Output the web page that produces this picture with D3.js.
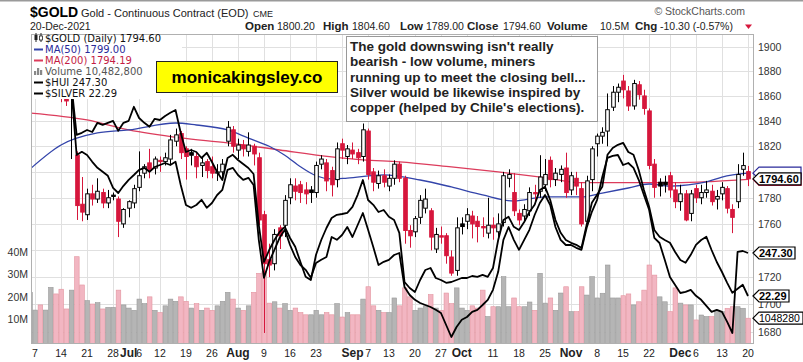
<!DOCTYPE html>
<html>
<head>
<meta charset="utf-8">
<script src="https://cdn.jsdelivr.net/npm/d3@7"></script>
<style>
  body { margin: 0; background: #fff; }
  svg { display: block; font-family: Arial, "Liberation Sans", sans-serif; }
</style>
</head>
<body>
<svg id="chart" width="803" height="362"></svg>
<script>
// trading calendar: weekdays Jun 4 - Dec 20 2021, minus exchange holidays
var firstDay = "2021-06-04", lastDay = "2021-12-20";
var holidays = ["2021-07-05", "2021-09-06", "2021-11-25"];

// daily $GOLD candles [open, high, low, close]
var ohlc = [
  [1872,1895,1868,1892],[1892,1903,1888,1899],[1899,1903,1890,1894],[1894,1900,1886,1896],[1896,1904,1884,1897],
  [1897,1902,1874,1878],[1878,1880,1855,1866],[1862,1866,1852,1856],[1858,1862,1810,1859],[1813,1816,1763,1774],
  [1775,1796,1762,1769],[1767,1787,1763,1783],[1783,1790,1774,1779],[1779,1795,1776,1785],[1784,1787,1772,1776],
  [1776,1786,1772,1780],[1782,1784,1778,1781],[1779,1781,1750,1762],[1760,1772,1757,1771],
  // Jul
  [1772,1778,1765,1777],[1776,1790,1772,1787],[1788,1816,1785,1797],[1799,1806,1795,1804],[1807,1818,1795,1802],
  [1803,1812,1798,1810],[1809,1812,1800,1808],[1808,1815,1805,1811],[1810,1829,1806,1825],[1824,1834,1820,1829],
  [1830,1832,1810,1815],[1818,1820,1794,1812],[1815,1818,1805,1813],[1812,1815,1795,1804],[1805,1812,1796,1807],
  [1808,1810,1795,1801],[1804,1812,1795,1799],[1799,1806,1793,1800],[1800,1810,1795,1806],[1824,1840,1820,1835],
  [1833,1836,1815,1820],
  // Aug
  [1817,1826,1810,1821],[1821,1825,1812,1818],[1816,1831,1812,1821],[1820,1822,1805,1814],[1811,1815,1759,1763],
  [1767,1770,1679,1730],[1733,1745,1720,1729],[1730,1756,1725,1752],[1757,1759,1741,1751],[1759,1782,1750,1778],
  [1780,1795,1775,1790],[1789,1795,1778,1785],[1790,1793,1776,1784],[1786,1792,1775,1783],[1786,1789,1776,1784],
  [1784,1808,1780,1805],[1806,1813,1802,1810],[1807,1810,1785,1793],[1801,1804,1781,1790],[1794,1823,1788,1818],
  [1822,1826,1810,1817],[1812,1821,1806,1818],
  // Sep
  [1817,1823,1810,1814],[1815,1818,1806,1811],[1812,1838,1808,1833],[1832,1834,1794,1798],[1800,1803,1785,1792],
  [1791,1801,1787,1797],[1797,1802,1788,1792],[1789,1798,1785,1795],[1795,1809,1790,1806],[1806,1808,1792,1795],
  [1795,1797,1745,1755],[1755,1759,1742,1751],[1754,1766,1750,1764],[1765,1782,1760,1778],[1772,1787,1768,1779],
  [1770,1772,1740,1750],[1741,1757,1738,1752],[1751,1758,1745,1750],[1751,1753,1730,1736],[1735,1740,1721,1723],
  [1725,1765,1721,1757],
  // Oct
  [1760,1765,1752,1758],[1762,1772,1756,1767],[1766,1770,1749,1760],[1762,1766,1746,1758],[1758,1765,1750,1757],
  [1753,1780,1749,1759],[1759,1765,1748,1757],[1754,1768,1750,1760],[1761,1800,1758,1797],[1795,1802,1788,1798],
  [1784,1799,1766,1770],[1768,1771,1759,1763],[1766,1775,1762,1771],[1770,1788,1766,1784],[1784,1790,1775,1783],
  [1785,1813,1780,1796],[1790,1810,1785,1798],[1809,1812,1788,1794],[1794,1803,1789,1799],[1798,1805,1792,1802],
  [1803,1815,1780,1784],
  // Nov
  [1786,1800,1782,1797],[1795,1800,1782,1789],[1787,1792,1758,1760],[1762,1797,1760,1793],[1794,1820,1785,1818],
  [1822,1830,1812,1828],[1828,1835,1822,1831],[1832,1862,1820,1849],[1851,1868,1848,1863],[1863,1870,1855,1867],
  [1872,1877,1858,1865],[1864,1868,1848,1852],[1852,1873,1849,1870],[1869,1872,1857,1861],[1860,1865,1845,1850],
  [1848,1850,1802,1805],[1806,1810,1780,1788],[1792,1795,1781,1789],[1792,1797,1784,1790],[1797,1800,1780,1786],
  [1786,1792,1772,1777],
  // Dec
  [1777,1790,1770,1783],[1783,1786,1762,1763],[1768,1786,1762,1783],[1787,1790,1776,1780],[1780,1790,1775,1784],
  [1784,1793,1780,1786],[1785,1790,1774,1777],[1779,1786,1771,1781],[1783,1792,1778,1788],[1787,1789,1768,1772],
  [1771,1775,1753,1765],[1777,1806,1772,1798],[1802,1815,1797,1804.9],[1800.2,1804.6,1789,1794.6]
];

// daily volume, millions
var volume = [
  22.0,14.1,16.4,14.1,24.2,21.3,23.4,14.6,23.0,37.9,25.3,18.3,16.8,17.4,14.6,15.3,15.3,23.0,16.4,
  15.0,14.0,19.0,17.0,20.0,14.0,13.0,16.0,19.0,18.0,20.0,18.0,15.0,17.0,14.0,15.0,14.0,16.0,18.0,22.0,19.0,
  15.0,14.0,16.0,22.0,30.5,31.2,17.2,17.8,15.0,17.0,14.0,15.0,13.0,12.0,12.0,14.0,12.0,13.0,12.0,17.0,11.0,13.0,
  12.0,12.0,19.0,24.5,16.0,14.0,13.0,13.0,19.5,16.0,24.0,20.0,14.0,15.0,16.0,21.0,15.0,14.0,21.7,17.0,24.0,
  15.0,14.0,16.0,15.0,23.0,11.2,15.6,15.6,29.0,15.6,19.5,15.6,15.6,17.7,14.0,30.5,17.2,19.5,14.0,21.7,24.5,
  13.4,13.4,24.5,20.8,29.0,19.5,21.6,34.2,19.5,19.5,20.5,21.3,16.4,17.8,23.0,34.2,29.7,20.0,17.8,13.4,24.0,
  17.2,16.4,16.4,9.7,11.9,11.2,11.2,13.4,13.4,14.9,15.6,15.6,14.9,10.48
];

// overlay: $HUI close
var hui = [
  295.6,295.1,294.3,294.1,294.6,292.6,290.6,289.6,288.1,271.8,272.6,271.8,270.1,268.6,267.6,266.6,263.6,262.3,264.1,
  265.6,266.8,268.1,268.6,267.6,268.8,269.3,269.8,269.3,270.1,264.3,259.3,258.6,259.3,260.6,258.6,259.8,261.8,263.1,268.1,268.6,
  266.8,265.6,266.1,264.3,250.6,241.1,245.1,248.1,251.1,253.1,249.3,246.3,244.3,243.1,241.1,244.8,245.6,246.3,251.3,250.6,251.8,253.8,
  251.3,254.3,257.3,253.1,248.8,244.3,245.1,245.6,246.8,247.3,238.8,236.8,235.6,234.8,234.3,233.8,233.1,232.3,229.3,226.3,228.8,
  230.6,231.3,232.6,233.1,234.3,235.6,238.1,242.6,250.6,253.8,250.6,248.1,250.6,253.1,256.8,259.8,261.8,259.3,253.8,250.6,249.3,
  249.3,248.6,248.1,253.6,257.6,260.6,266.3,271.1,271.6,271.8,269.3,269.8,268.6,265.6,261.8,258.1,251.1,249.8,245.6,241.3,239.3,
  237.3,237.6,238.1,236.6,235.6,234.1,232.6,233.1,232.6,230.1,227.3,247.6,247.8,247.3
];

// overlay: $SILVER close
var silver = [
  28.44,28.39,28.32,28.24,28.32,28.14,27.94,27.74,27.57,26.32,26.37,26.44,26.39,26.62,26.57,26.62,26.67,26.42,26.62,
  26.67,27.02,26.74,26.62,26.52,26.72,26.69,26.79,26.87,26.94,26.37,25.89,25.94,25.89,25.74,25.87,25.64,25.39,25.19,25.74,25.82,
  25.69,25.59,25.49,25.34,24.07,23.14,23.44,23.69,23.89,24.02,23.74,23.52,23.14,22.77,22.69,23.32,23.69,23.99,24.24,24.32,24.34,24.37,
  24.52,24.82,25.19,24.69,24.57,24.39,24.44,24.27,24.19,23.87,22.64,22.49,22.39,22.69,22.94,22.99,22.74,22.69,22.62,22.64,22.69,
  22.74,22.74,22.79,22.77,22.82,22.77,22.99,23.69,24.19,24.27,24.02,23.94,24.14,24.39,24.57,24.94,25.02,24.69,24.19,23.87,23.69,
  23.62,23.57,23.49,24.07,24.62,24.82,25.02,25.82,25.99,26.07,26.12,25.89,25.82,25.44,24.94,24.52,23.94,23.77,23.69,23.62,23.39,
  23.19,23.12,23.32,23.57,23.69,23.77,23.44,23.14,22.89,22.62,22.37,22.47,22.57,22.29
];

// moving averages [date, value]
var ma50 = [
  ["2021-06-04",1802],["2021-06-14",1821],["2021-06-23",1830.5],["2021-07-01",1832.9],["2021-07-15",1838.4],
  ["2021-07-21",1836.8],["2021-07-29",1832.9],["2021-08-04",1826.5],["2021-08-10",1820],["2021-08-13",1813],
  ["2021-08-18",1804],["2021-08-23",1797],["2021-08-26",1794.5],["2021-08-31",1795.2],["2021-09-10",1797.6],
  ["2021-09-21",1793.7],["2021-09-29",1788.3],["2021-10-07",1782.2],["2021-10-15",1777.5],["2021-10-25",1780.6],
  ["2021-11-03",1780.6],["2021-11-09",1783.6],["2021-11-16",1787.5],["2021-11-22",1790.6],["2021-11-29",1789.0],
  ["2021-12-08",1792.2],["2021-12-13",1796.0],["2021-12-20",1799.0]
];
var ma200 = [
  ["2021-06-04",1846.4],["2021-06-21",1840.8],["2021-07-01",1832.9],["2021-07-16",1826.6],["2021-07-29",1822.7],
  ["2021-08-12",1817.1],["2021-08-26",1811.7],["2021-09-03",1809.3],["2021-09-15",1807.8],["2021-09-29",1803.9],
  ["2021-10-12",1800.0],["2021-10-25",1795.5],["2021-11-03",1791.6],["2021-11-12",1791.6],["2021-11-30",1791.6],
  ["2021-12-09",1792.5],["2021-12-20",1794.19]
];

var xTicks = [
  ["2021-06-07","7"],["2021-06-14","14"],["2021-06-21","21"],["2021-06-28","28"],["2021-07-01","Jul"],
  ["2021-07-06","6"],["2021-07-12","12"],["2021-07-19","19"],["2021-07-26","26"],["2021-08-02","Aug"],
  ["2021-08-09","9"],["2021-08-16","16"],["2021-08-23","23"],["2021-09-01","Sep"],["2021-09-07","7"],
  ["2021-09-13","13"],["2021-09-20","20"],["2021-09-27","27"],["2021-10-01","Oct"],["2021-10-11","11"],
  ["2021-10-18","18"],["2021-10-25","25"],["2021-11-01","Nov"],["2021-11-08","8"],["2021-11-15","15"],
  ["2021-11-22","22"],["2021-12-01","Dec"],["2021-12-06","6"],["2021-12-13","13"],["2021-12-20","20"]
];
var priceTicks = [1680,1700,1720,1740,1760,1780,1800,1820,1840,1860,1880,1900];
var volTicks = [10e6, 20e6, 30e6, 40e6];

var legendRows = [
  {label: "$GOLD (Daily) 1794.60", color: "#111", icon: "candle"},
  {label: "MA(50) 1799.00", color: "#2a2a9a", icon: "line", stroke: "#3344aa"},
  {label: "MA(200) 1794.19", color: "#c41c44", icon: "line", stroke: "#dc3c5c"},
  {label: "Volume 10,482,800", color: "#555", icon: "bars"},
  {label: "$HUI 247.30", color: "#111", icon: "line", stroke: "#000"},
  {label: "$SILVER 22.29", color: "#111", icon: "line", stroke: "#000"}
];
var annotation = [
  "The gold downswing isn't really",
  "bearish - low volume, miners",
  "running up to meet the closing bell...",
  "Silver would be likewise inspired by",
  "copper (helped by Chile's elections)."
];

var RED = "#d6173c", PINK = "#f2b6c2", PINK_EDGE = "#e3949f", GRAY = "#b5b5b5", GRAY_EDGE = "#999";

var parse = d3.timeParse("%Y-%m-%d"), fmt = d3.timeFormat("%Y-%m-%d");
var dates = d3.timeDay.range(parse(firstDay), d3.timeDay.offset(parse(lastDay), 1))
  .filter(function(d) { var w = d.getDay(); return w > 0 && w < 6 && holidays.indexOf(fmt(d)) < 0; });
var idx = {};
dates.forEach(function(d, i) { idx[fmt(d)] = i; });

var rows = dates.map(function(d, i) {
  var q = ohlc[i];
  return { i: i, o: q[0], h: q[1], l: q[2], c: q[3], v: volume[i] * 1e6,
           up: i === 0 ? true : q[3] >= ohlc[i - 1][3] };
});

var plot = { left: 31, right: 754, top: 34, bottom: 343 };
var x = d3.scaleLinear().domain([1, 138]).range([35, 748]);
var y = d3.scaleLog().domain([1680, 1900]).range([331.6, 46.7]);
var yVol = d3.scaleLinear().domain([0, 40e6]).range([341.7, 252]);
var yHui = d3.scaleLinear().domain([247.3, 310.55]).range([253, 0]);
var ySil = d3.scaleLinear().domain([22.29, 29.69]).range([296, 0]);

var svg = d3.select("#chart");
svg.append("rect").attr("x", 0).attr("y", 0).attr("width", 803).attr("height", 1.5).attr("fill", "#9a9a9a");

svg.append("defs").append("clipPath").attr("id", "plotclip")
  .append("rect").attr("x", plot.left).attr("y", plot.top)
  .attr("width", plot.right - plot.left).attr("height", plot.bottom - plot.top);

// ---- header
var head = svg.append("g");
head.append("text").attr("x", 30).attr("y", 17).style("font-size", "14px").style("font-weight", "bold").text("$GOLD");
head.append("text").attr("x", 81).attr("y", 17).style("font-size", "11px").attr("fill", "#222").text("Gold - Continuous Contract (EOD)");
head.append("text").attr("x", 253).attr("y", 17).style("font-size", "9px").attr("fill", "#222").text("CME");
head.append("text").attr("x", 30).attr("y", 30).style("font-size", "10.5px").attr("fill", "#222").text("20-Dec-2021");
head.append("text").attr("x", 745).attr("y", 15).attr("text-anchor", "end").style("font-size", "10.5px")
  .attr("fill", "#555").text("\u00a9 StockCharts.com");

var quote = [
  [245, "Open", true], [277, "1800.20", false], [323, "High", true], [352, "1804.60", false],
  [400, "Low", true], [426, "1789.00", false], [467, "Close", true], [503, "1794.60", false],
  [547, "Volume", true], [600, "10.5M", false], [635, "Chg", true], [660, "-10.30 (-0.57%)", false]
];
head.selectAll("text.q").data(quote).join("text").attr("class", "q")
  .attr("x", function(d) { return d[0]; }).attr("y", 30)
  .style("font-size", function(d) { return d[2] ? "11.5px" : "10.5px"; })
  .style("font-weight", function(d) { return d[2] ? "bold" : "normal"; })
  .attr("fill", "#222")
  .text(function(d) { return d[1]; });
head.append("path").attr("d", "M745,24.5 L752,24.5 L748.5,29 Z").attr("fill", RED);

// ---- grid
var grid = svg.append("g");
grid.selectAll("line.h").data(priceTicks).join("line").attr("class", "h")
  .attr("x1", plot.left).attr("x2", plot.right)
  .attr("y1", function(d) { return Math.round(y(d)) + 0.5; })
  .attr("y2", function(d) { return Math.round(y(d)) + 0.5; })
  .attr("stroke", "#e0e0e0");
var weekStarts = rows.filter(function(r) {
  return r.i > 0 && dates[r.i].getDay() < dates[r.i - 1].getDay();
});
grid.selectAll("line.v").data(weekStarts).join("line").attr("class", "v")
  .attr("x1", function(r) { return Math.round(x(r.i)) + 0.5; })
  .attr("x2", function(r) { return Math.round(x(r.i)) + 0.5; })
  .attr("y1", plot.top).attr("y2", plot.bottom)
  .attr("stroke", "#e0e0e0");

var body = svg.append("g").attr("clip-path", "url(#plotclip)");

// ---- volume
var step = x(2) - x(1);
body.append("g").selectAll("rect").data(rows).join("rect")
  .attr("x", function(r) { return x(r.i) - step / 2 + 0.5; })
  .attr("width", step - 0.6)
  .attr("y", function(r) { return yVol(r.v); })
  .attr("height", function(r) { return yVol(0) - yVol(r.v) + 2; })
  .attr("fill", function(r) { return r.up ? GRAY : PINK; })
  .attr("stroke", function(r) { return r.up ? GRAY_EDGE : PINK_EDGE; })
  .attr("stroke-width", 0.6);

// ---- moving averages
var maLine = d3.line()
  .x(function(d) { return x(idx[d[0]]); })
  .y(function(d) { return y(d[1]); })
  .curve(d3.curveMonotoneX);
body.append("path").attr("d", maLine(ma200)).attr("fill", "none").attr("stroke", "#dc3c5c").attr("stroke-width", 1.3);
body.append("path").attr("d", maLine(ma50)).attr("fill", "none").attr("stroke", "#3344aa").attr("stroke-width", 1.3);

// ---- candles
var bw = 3.6;
var candles = body.append("g").selectAll("g").data(rows).join("g");
candles.append("line")
  .attr("x1", function(r) { return Math.round(x(r.i)) + 0.5; })
  .attr("x2", function(r) { return Math.round(x(r.i)) + 0.5; })
  .attr("y1", function(r) { return y(r.h); }).attr("y2", function(r) { return y(r.l); })
  .attr("stroke", function(r) { return r.up ? "#000" : RED; }).attr("stroke-width", 1);
candles.append("rect")
  .attr("x", function(r) { return Math.round(x(r.i)) + 0.5 - bw / 2; })
  .attr("width", bw)
  .attr("y", function(r) { return y(Math.max(r.o, r.c)); })
  .attr("height", function(r) { return Math.max(1, Math.abs(y(r.o) - y(r.c))); })
  .attr("fill", function(r) { return r.c >= r.o ? "#fff" : (r.up ? "#000" : RED); })
  .attr("stroke", function(r) { return r.up ? "#000" : RED; }).attr("stroke-width", 1);

// ---- overlays
var huiLine = d3.line().x(function(d, i) { return x(i); }).y(function(d) { return yHui(d); });
var silLine = d3.line().x(function(d, i) { return x(i); }).y(function(d) { return ySil(d); });
body.append("path").attr("d", huiLine(hui)).attr("fill", "none").attr("stroke", "#000")
  .attr("stroke-width", 1.8).attr("stroke-linejoin", "round");
body.append("path").attr("d", silLine(silver)).attr("fill", "none").attr("stroke", "#000")
  .attr("stroke-width", 1.8).attr("stroke-linejoin", "round");

// ---- frame
svg.append("rect").attr("x", plot.left + 0.5).attr("y", plot.top + 0.5)
  .attr("width", plot.right - plot.left - 1).attr("height", plot.bottom - plot.top)
  .attr("fill", "none").attr("stroke", "#b0b0b0");

// ---- axes text
svg.append("g").selectAll("text").data(xTicks).join("text")
  .attr("x", function(d) { return x(idx[d[0]]); }).attr("y", 357)
  .attr("text-anchor", "middle").attr("fill", "#222")
  .style("font-size", function(d) { return isNaN(+d[1]) ? "12px" : "10.5px"; })
  .style("font-weight", function(d) { return isNaN(+d[1]) ? "bold" : "normal"; })
  .text(function(d) { return d[1]; });

// value tags on the right; price labels fully covered by a tag are not drawn
var tags = [
  {y: y(1794.60), label: "1794.60", color: "#000", bold: true, w: 42},
  {y: yHui(247.3), label: "247.30", color: "#000", bold: true, w: 36},
  {y: ySil(22.29), label: "22.29", color: "#000", bold: true, w: 30},
  {y: yVol(10482800), label: "1048280", color: "#000", bold: false, w: 44}
];
var shownTicks = priceTicks.filter(function(p) {
  return !tags.some(function(t) { return Math.abs(t.y - y(p)) < 7; });
});
svg.append("g").selectAll("text").data(shownTicks).join("text")
  .attr("x", 758).attr("y", function(d) { return y(d) + 4; })
  .style("font-size", "10.5px").attr("fill", "#333")
  .text(function(d) { return d; });

svg.append("g").selectAll("text").data(volTicks).join("text")
  .attr("x", 28).attr("y", function(d) { return yVol(d) + 4; }).attr("text-anchor", "end")
  .style("font-size", "10.5px").attr("fill", "#333")
  .text(function(d) { return d / 1e6 + "M"; });

function tagShape(yy, color, w) {
  return svg.append("path")
    .attr("d", "M753," + yy + " L759," + (yy - 6) + " L" + (759 + w) + "," + (yy - 6) +
               " L" + (759 + w) + "," + (yy + 6) + " L759," + (yy + 6) + " Z")
    .attr("fill", "#fff").attr("stroke", color).attr("stroke-width", 1.2);
}
// MA tags sit underneath the price tag, only their edges show
tagShape(y(1794.19), "#c41c44", 42);
tagShape(y(1799.00), "#2a2a9a", 42);
tags.forEach(function(t) {
  tagShape(t.y, t.color, t.w);
  svg.append("text").attr("x", 759).attr("y", t.y + 4)
    .style("font-size", t.bold ? "11px" : "10.5px").style("font-weight", t.bold ? "bold" : "normal")
    .attr("fill", t.color).text(t.label);
});

// ---- legend
var leg = svg.append("g");
leg.append("rect").attr("x", plot.left + 1).attr("y", plot.top + 1).attr("width", 150).attr("height", 64).attr("fill", "#fff");
legendRows.forEach(function(r, k) {
  var by = 42 + k * 11;
  if (r.icon === "line") {
    leg.append("line").attr("x1", 34).attr("x2", 43).attr("y1", by - 3.5).attr("y2", by - 3.5)
      .attr("stroke", r.stroke).attr("stroke-width", 2);
  } else if (r.icon === "bars") {
    [[34, 4], [37, 7], [40, 5]].forEach(function(b) {
      leg.append("rect").attr("x", b[0]).attr("y", by - b[1]).attr("width", 2.2).attr("height", b[1]).attr("fill", "#888");
    });
  } else {
    leg.append("line").attr("x1", 36).attr("x2", 36).attr("y1", by - 9).attr("y2", by).attr("stroke", "#222");
    leg.append("rect").attr("x", 34.5).attr("y", by - 7).attr("width", 3).attr("height", 5).attr("fill", "#222");
    leg.append("line").attr("x1", 41).attr("x2", 41).attr("y1", by - 9).attr("y2", by).attr("stroke", "#222");
    leg.append("rect").attr("x", 39.5).attr("y", by - 6).attr("width", 3).attr("height", 4).attr("fill", "#fff").attr("stroke", "#222").attr("stroke-width", 0.8);
  }
  leg.append("text").attr("x", 45).attr("y", by)
    .style("font-family", "'DejaVu Sans', Verdana, sans-serif").style("font-size", "10px")
    .attr("fill", r.color).text(r.label);
});

// ---- logo
svg.append("rect").attr("x", 156.5).attr("y", 61.5).attr("width", 181).attr("height", 31)
  .attr("fill", "#ffff00").attr("stroke", "#222").attr("stroke-width", 1);
svg.append("text").attr("x", 247).attr("y", 83).attr("text-anchor", "middle")
  .style("font-size", "17px").style("font-weight", "bold").attr("fill", "#000").text("monicakingsley.co");

// ---- note box
svg.append("rect").attr("x", 346.5).attr("y", 36.5).attr("width", 251).attr("height", 85)
  .attr("fill", "#fff").attr("stroke", "#999");
svg.append("g").selectAll("text").data(annotation).join("text")
  .attr("x", 350).attr("y", function(d, k) { return 51 + k * 15.3; })
  .style("font-size", "13.5px").style("font-weight", "bold").attr("fill", "#222")
  .text(function(d) { return d; });
</script>
</body>
</html>
